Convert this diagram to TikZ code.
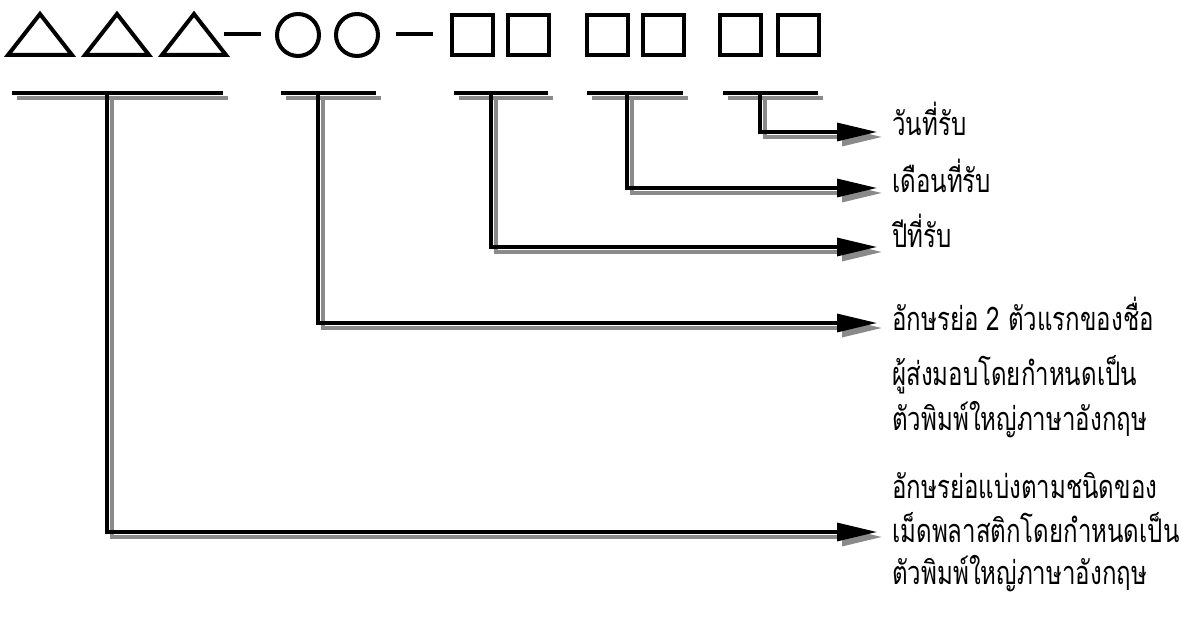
\documentclass[tikz,border=0pt]{standalone}
\usepackage{fontspec}
\newfontfamily\thaifont[Script=Thai,FakeStretch=0.74]{Loma}
\usetikzlibrary{positioning,arrows.meta}
\definecolor{cshade}{HTML}{8A8A8A}
\definecolor{cink}{HTML}{000000}

\begin{document}
\begin{tikzpicture}[x=0.02cm,y=-0.02cm,
    sym/.style={cink,line width=0.08cm,line join=miter},
    bar/.style={cink,line width=0.065cm,
      preaction={draw=cshade,line width=0.065cm,transform canvas={shift={(5,5)}}}},
    lead/.style={bar,-{Triangle[length=0.8cm,width=0.36cm]}},
    lbl/.style={anchor=base west,inner sep=0pt,font=\thaifont\fontsize{18.5}{21}\selectfont}]
  \useasboundingbox (0,0) rectangle (1183,628);
  % code pattern: triangles, dashes, circles, squares
  \foreach \x in {8,85,162}{\draw[sym] (\x,55) -- ++(32,-41) -- ++(32,41) -- cycle;}
  \foreach \x in {224,396}{\draw[sym] (\x,34) -- ++(37,0);}
  \foreach \x in {298,357}{\draw[sym] (\x,35) circle (21);}
  \foreach \x in {452,508,587,643,720,778}{\draw[sym] (\x,15) rectangle ++(41,40);}
  % underline bars
  \foreach \n/\l/\r in {1/12/223,2/281/376,3/454/548,4/587/683,5/723/818}{
    \coordinate (bl\n) at (\l,93);
    \coordinate (br\n) at (\r,93);
    \draw[bar] (bl\n) -- (br\n);}
  \coordinate (t1) at (107,93);
  \coordinate (t2) at (318,93);
  \coordinate (t3) at (491,93);
  \coordinate (t4) at (627,93);
  \coordinate (t5) at (760,93);
  % labels
  \node[lbl] (day) at (892,136) {วันที่รับ};
  \node[lbl] (month) at (892,193) {เดือนที่รับ};
  \node[lbl] (year) at (892,248) {ปีที่รับ};
  \node[lbl] (supa) at (892,330) {อักษรย่อ 2 ตัวแรกของชื่อ};
  \node[lbl] (supb) at (892,385) {ผู้ส่งมอบโดยกำหนดเป็น};
  \node[lbl] (supc) at (892,430) {ตัวพิมพ์ใหญ่ภาษาอังกฤษ};
  \node[lbl] (plaa) at (892,498) {อักษรย่อแบ่งตามชนิดของ};
  \node[lbl] (plab) at (892,542) {เม็ดพลาสติกโดยกำหนดเป็น};
  \node[lbl] (plac) at (892,584) {ตัวพิมพ์ใหญ่ภาษาอังกฤษ};
  % leaders
  \coordinate (e5) at (877,132);
  \coordinate (e4) at (877,188);
  \coordinate (e3) at (877,247);
  \coordinate (e2) at (877,323);
  \coordinate (e1) at (877,532);
  \foreach \n in {1,...,5}{\draw[lead] (t\n) |- (e\n);}
\end{tikzpicture}
\end{document}
